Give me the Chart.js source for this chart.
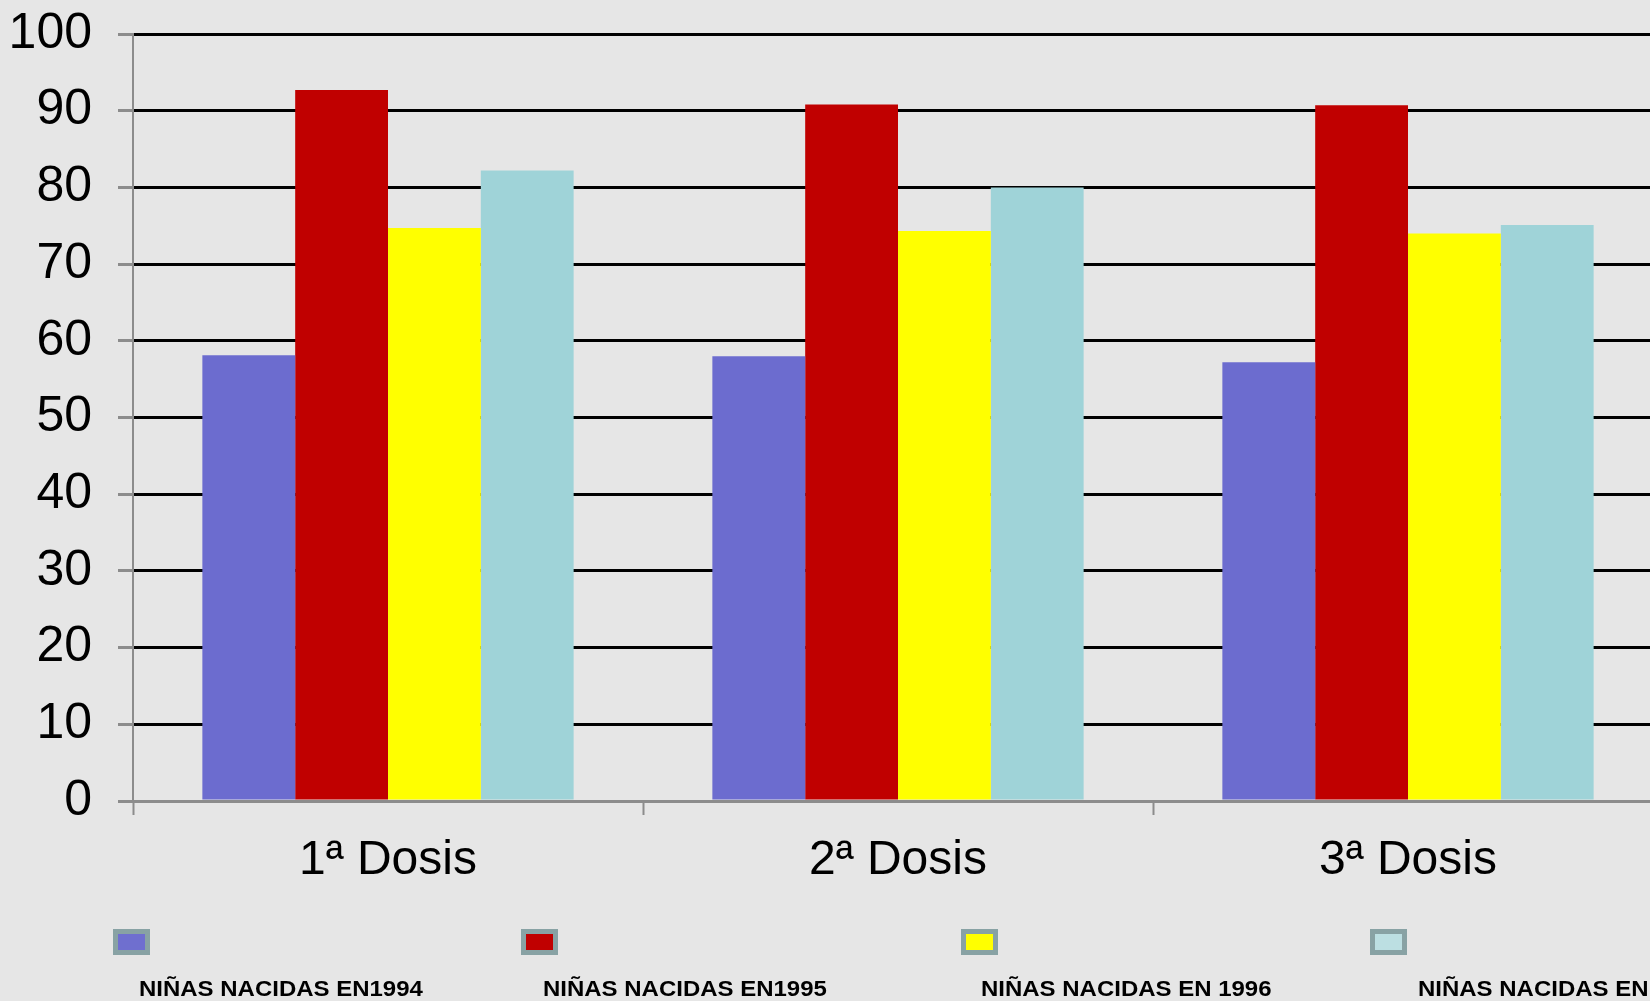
<!DOCTYPE html>
<html>
<head>
<meta charset="utf-8">
<script src="https://cdn.jsdelivr.net/npm/chart.js@4.4.0/dist/chart.umd.min.js"></script>
<style>
  html, body { margin: 0; padding: 0; background: #e6e6e6; overflow: hidden; }
  #wrap { position: relative; width: 1650px; height: 1001px; overflow: hidden; background: #e6e6e6; }
  #c { position: absolute; left: 0; top: 0; }
  .lg-box { position: absolute; box-sizing: border-box; border: 5px solid #88a2a4; }
  .lg-txt { position: absolute; font: bold 22px "Liberation Sans", Arial, sans-serif; line-height: 22px; color: #000; white-space: nowrap; transform: scaleX(1.09); transform-origin: 0 0; }
</style>
</head>
<body>
<div id="wrap">
  <canvas id="c" width="1663" height="1001"></canvas>
</div>
<script>
const categories = ['1ª Dosis', '2ª Dosis', '3ª Dosis'];
const seriesLabels = ['NIÑAS NACIDAS EN1994', 'NIÑAS NACIDAS EN1995', 'NIÑAS NACIDAS EN 1996', 'NIÑAS NACIDAS EN 1997'];
const nacidas1994 = [58.1, 58.0, 57.2];
const nacidas1995 = [92.7, 90.8, 90.7];
const nacidas1996 = [74.7, 74.3, 74.0];
const nacidas1997 = [82.2, 80.0, 75.1];
const yTicks = [0, 10, 20, 30, 40, 50, 60, 70, 80, 90, 100];

const barColors = ['#6c6ccf', '#c00000', '#ffff00', '#9fd3d8'];
const legendFill = ['#6f6fcf', '#c00000', '#ffff00', '#bcdfe2'];
const legendBoxX = [113, 521, 961, 1370];
const legendTextX = [139, 543, 981, 1418];

const seriesValues = [nacidas1994, nacidas1995, nacidas1996, nacidas1997];
const FONT = '"Liberation Sans", Arial, sans-serif';

const chart = new Chart(document.getElementById('c'), {
  type: 'bar',
  data: {
    labels: categories,
    datasets: seriesValues.map((vals, i) => ({
      label: seriesLabels[i],
      data: vals,
      backgroundColor: barColors[i],
      borderWidth: 0,
      categoryPercentage: 0.728,
      barPercentage: 1.0
    }))
  },
  options: {
    responsive: false,
    devicePixelRatio: 1,
    animation: false,
    layout: { padding: { top: 34, left: 0, right: 0, bottom: 0 } },
    plugins: { legend: { display: false }, tooltip: { enabled: false } },
    scales: {
      x: {
        afterFit: s => { s.height = 200; s.paddingLeft = 0; s.paddingRight = 0; },
        grid: { display: true, drawOnChartArea: false, drawTicks: true, offset: true, tickLength: 14, tickColor: '#8c8c8c', tickWidth: 2 },
        border: { color: '#8c8c8c', width: 3 },
        ticks: { color: '#000', font: { family: FONT, size: 48 }, padding: 17, maxRotation: 0 }
      },
      y: {
        min: 0, max: 100,
        afterFit: s => { s.width = 133; s.paddingTop = 0; s.paddingBottom = 0; },
        afterBuildTicks: s => { s.ticks = yTicks.map(v => ({ value: v })); },
        grid: { color: '#000', lineWidth: 3, tickLength: 15, tickColor: '#8c8c8c', tickWidth: 3 },
        border: { color: '#8c8c8c', width: 2 },
        ticks: { color: '#000', font: { family: FONT, size: 50 }, padding: 26 }
      }
    }
  }
});

const wrap = document.getElementById('wrap');
seriesLabels.forEach((lab, i) => {
  const b = document.createElement('div');
  b.className = 'lg-box';
  b.style.left = legendBoxX[i] + 'px';
  b.style.top = '929px';
  b.style.width = '37px';
  b.style.height = '26px';
  b.style.background = legendFill[i];
  wrap.appendChild(b);
  const t = document.createElement('div');
  t.className = 'lg-txt';
  t.style.left = legendTextX[i] + 'px';
  t.style.top = '978px';
  t.textContent = lab;
  wrap.appendChild(t);
});
</script>
</body>
</html>
